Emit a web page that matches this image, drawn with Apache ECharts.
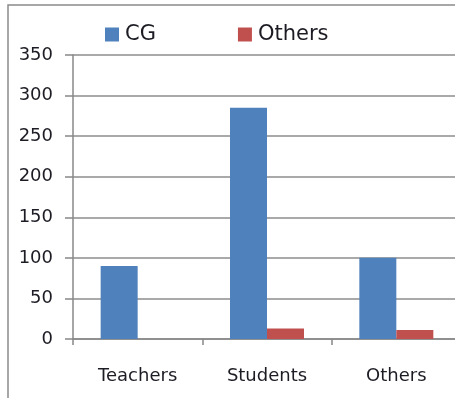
<!DOCTYPE html>
<html>
<head>
<meta charset="utf-8">
<script src="https://cdn.jsdelivr.net/npm/echarts@6/dist/echarts.min.js"></script>
<style>
  html, body { margin: 0; padding: 0; background: #fff; overflow: hidden; }
  /* the chart area is a little wider than the view, so the plot runs off the right edge */
  #chart { width: 461px; height: 398px; }
</style>
</head>
<body>
<div id="chart"></div>
<script>
// Respondent groups along the x axis
var categories = ['Teachers', 'Students', 'Others'];
// Counts per group
var cgValues = [90, 285, 100];
var othersValues = [0, 13, 11];
// Value axis range
var yMin = 0, yMax = 350, yStep = 50;

var font = '"DejaVu Sans", sans-serif';
var textColor = '#1c1c24';
var chart = echarts.init(document.getElementById('chart'));
chart.setOption({
  animation: false,
  backgroundColor: '#fff',
  graphic: [{
    type: 'rect',
    shape: { x: 8, y: 5, width: 460, height: 410 },
    style: { fill: 'none', stroke: '#8a8a8a', lineWidth: 1.5 },
    z: 0
  }],
  legend: {
    top: 19,
    left: 100,
    itemGap: 82,
    itemWidth: 14,
    itemHeight: 14,
    icon: 'rect',
    textStyle: { fontFamily: font, fontSize: 21, color: textColor, padding: [0, 0, 0, 1] },
    data: ['CG', 'Others']
  },
  grid: { left: 73, right: 0, top: 55, bottom: 59, containLabel: false },
  xAxis: {
    type: 'category',
    data: categories,
    axisLine: { lineStyle: { color: '#888', width: 1.5 } },
    axisTick: { show: true, length: 6, lineStyle: { color: '#888', width: 1.5 } },
    axisLabel: { margin: 28, fontFamily: font, fontSize: 18, color: textColor }
  },
  yAxis: {
    type: 'value',
    min: yMin,
    max: yMax,
    interval: yStep,
    axisLine: { show: true, lineStyle: { color: '#888', width: 1.5 } },
    axisTick: { show: true, length: 8, lineStyle: { color: '#888', width: 1.5 } },
    splitLine: { lineStyle: { color: '#8c8c8c', width: 1.5 } },
    axisLabel: { margin: 20, fontFamily: font, fontSize: 18, color: textColor }
  },
  series: [
    {
      name: 'CG', type: 'bar', data: cgValues,
      barWidth: 37, barGap: '0%',
      itemStyle: { color: '#4f81bd' }
    },
    {
      name: 'Others', type: 'bar', data: othersValues,
      barWidth: 37, barGap: '0%',
      itemStyle: { color: '#c0504d' }
    }
  ]
});
</script>
</body>
</html>
